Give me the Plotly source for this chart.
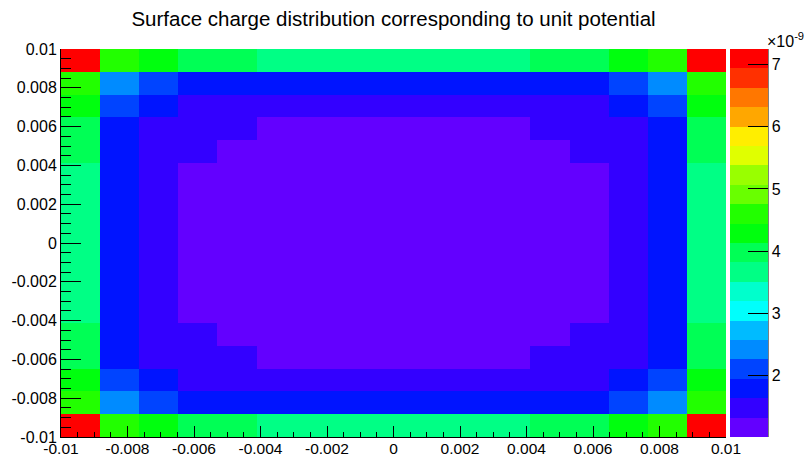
import colorsys
import numpy as np
import plotly.graph_objects as go

# Histogram range and binning (17 x 17 cells on a square plate)
x_min, x_max = -0.01, 0.01
y_min, y_max = -0.01, 0.01
n_bins = 17

# Surface charge per cell, in units of 1e-9 (rows from bottom to top)
charge_1e9 = [
    [7.25, 4.60, 4.29, 3.97, 3.97, 3.66, 3.66, 3.66, 3.66, 3.66, 3.66, 3.66, 3.97, 3.97, 4.29, 4.60, 7.25],
    [4.60, 2.41, 2.10, 1.79, 1.79, 1.79, 1.79, 1.79, 1.79, 1.79, 1.79, 1.79, 1.79, 1.79, 2.10, 2.41, 4.60],
    [4.29, 2.10, 1.79, 1.48, 1.48, 1.48, 1.48, 1.48, 1.48, 1.48, 1.48, 1.48, 1.48, 1.48, 1.79, 2.10, 4.29],
    [3.97, 1.79, 1.48, 1.48, 1.48, 1.30, 1.28, 1.27, 1.27, 1.27, 1.28, 1.30, 1.48, 1.48, 1.48, 1.79, 3.97],
    [3.97, 1.79, 1.48, 1.48, 1.30, 1.22, 1.18, 1.16, 1.16, 1.16, 1.18, 1.22, 1.30, 1.48, 1.48, 1.79, 3.97],
    [3.66, 1.79, 1.48, 1.31, 1.24, 1.16, 1.12, 1.10, 1.09, 1.10, 1.12, 1.16, 1.24, 1.31, 1.48, 1.79, 3.66],
    [3.66, 1.79, 1.48, 1.29, 1.20, 1.13, 1.09, 1.06, 1.05, 1.06, 1.09, 1.13, 1.20, 1.29, 1.48, 1.79, 3.66],
    [3.66, 1.79, 1.48, 1.28, 1.19, 1.11, 1.07, 1.04, 1.03, 1.04, 1.07, 1.11, 1.19, 1.28, 1.48, 1.79, 3.66],
    [3.66, 1.79, 1.48, 1.28, 1.18, 1.10, 1.06, 1.03, 1.01, 1.03, 1.06, 1.10, 1.18, 1.28, 1.48, 1.79, 3.66],
    [3.66, 1.79, 1.48, 1.28, 1.19, 1.11, 1.07, 1.04, 1.03, 1.04, 1.07, 1.11, 1.19, 1.28, 1.48, 1.79, 3.66],
    [3.66, 1.79, 1.48, 1.29, 1.20, 1.13, 1.09, 1.06, 1.05, 1.06, 1.09, 1.13, 1.20, 1.29, 1.48, 1.79, 3.66],
    [3.66, 1.79, 1.48, 1.31, 1.24, 1.16, 1.12, 1.10, 1.09, 1.10, 1.12, 1.16, 1.24, 1.31, 1.48, 1.79, 3.66],
    [3.97, 1.79, 1.48, 1.48, 1.30, 1.22, 1.18, 1.16, 1.16, 1.16, 1.18, 1.22, 1.30, 1.48, 1.48, 1.79, 3.97],
    [3.97, 1.79, 1.48, 1.48, 1.48, 1.30, 1.28, 1.27, 1.27, 1.27, 1.28, 1.30, 1.48, 1.48, 1.48, 1.79, 3.97],
    [4.29, 2.10, 1.79, 1.48, 1.48, 1.48, 1.48, 1.48, 1.48, 1.48, 1.48, 1.48, 1.48, 1.48, 1.79, 2.10, 4.29],
    [4.60, 2.41, 2.10, 1.79, 1.79, 1.79, 1.79, 1.79, 1.79, 1.79, 1.79, 1.79, 1.79, 1.79, 2.10, 2.41, 4.60],
    [7.25, 4.60, 4.29, 3.97, 3.97, 3.66, 3.66, 3.66, 3.66, 3.66, 3.66, 3.66, 3.97, 3.97, 4.29, 4.60, 7.25],
]

# Colour axis limits (units of 1e-9) and number of contour levels
z_min, z_max = 1.01, 7.25
n_levels = 20

axis_tick_vals = [-0.01, -0.008, -0.006, -0.004, -0.002, 0, 0.002, 0.004, 0.006, 0.008, 0.01]
axis_tick_text = ["-0.01", "-0.008", "-0.006", "-0.004", "-0.002", "0",
                  "0.002", "0.004", "0.006", "0.008", "0.01"]
cbar_tick_vals = [2, 3, 4, 5, 6, 7]
cbar_tick_text = ["2", "3", "4", "5", "6", "7"]

title_text = "Surface charge distribution corresponding to unit potential"

# Bin centres from the histogram edges
x_edges = np.linspace(x_min, x_max, n_bins + 1)
y_edges = np.linspace(y_min, y_max, n_bins + 1)
x_centres = 0.5 * (x_edges[:-1] + x_edges[1:])
y_centres = 0.5 * (y_edges[:-1] + y_edges[1:])

# "Pretty" violet-to-red palette of 50 hues, sampled onto the contour levels
def pretty_colour(i, n_pretty=50, max_hue=280.0):
    hue = max_hue - (i + 1) * (max_hue / n_pretty)
    r, g, b = colorsys.hls_to_rgb(hue / 360.0, 0.5, 1.0)
    return "rgb({:d},{:d},{:d})".format(round(r * 255), round(g * 255), round(b * 255))

colorscale = []
for k in range(n_levels):
    idx = int((k + 0.99) * 50 / n_levels)
    c = pretty_colour(idx)
    colorscale.append([k / n_levels, c])
    colorscale.append([(k + 1) / n_levels, c])

FONT = "Liberation Sans, Arial, Helvetica, sans-serif"

# Plot area in pixels
W, H = 805, 457
L, R, T, B = 61, 726, 49, 437
pw, ph = R - L, B - T

fig = go.Figure()
fig.add_trace(go.Heatmap(
    x=x_centres, y=y_centres, z=charge_1e9,
    zmin=z_min, zmax=z_max, colorscale=colorscale,
    hoverinfo="skip",
    colorbar=dict(
        x=(730 - L) / pw, xanchor="left", xpad=0,
        y=0.5, yanchor="middle", ypad=0,
        len=1.0, lenmode="fraction",
        thickness=38, thicknessmode="pixels",
        outlinewidth=0,
        tickmode="array", tickvals=cbar_tick_vals, ticktext=cbar_tick_text,
        ticks="inside", ticklen=20, tickwidth=1, tickcolor="black",
        tickfont=dict(family=FONT, size=16, color="black"),
    ),
))

axis_common = dict(
    tickmode="array", tickvals=axis_tick_vals, ticktext=axis_tick_text,
    ticks="inside", tickcolor="black", tickwidth=1,
    showline=True, linecolor="black", linewidth=1,
    showgrid=False, zeroline=False, automargin=False,
)

fig.update_xaxes(range=[x_min, x_max], ticklen=11, ticklabelstandoff=-3,
                 tickfont=dict(family=FONT, size=15.5, color="black"),
                 minor=dict(dtick=0.0005, ticks="inside", ticklen=5, tickcolor="black", showgrid=False),
                 **axis_common)
fig.update_yaxes(range=[y_min, y_max], ticklen=20,
                 tickfont=dict(family=FONT, size=16, color="black"),
                 minor=dict(dtick=0.0005, ticks="inside", ticklen=10, tickcolor="black", showgrid=False),
                 **axis_common)

# Axis line along the palette's right edge
fig.add_shape(type="line", xref="paper", yref="paper",
              x0=(768 - L) / pw, x1=(768 - L) / pw, y0=0, y1=1,
              line=dict(color="black", width=1))

# Common exponent of the palette axis
fig.add_annotation(text="\u00d710<sup>-9</sup>", xref="paper", yref="paper",
                   x=(765 - L) / pw, y=(B - 40) / ph, xanchor="left", yanchor="middle",
                   showarrow=False, font=dict(family=FONT, size=16, color="black"))

fig.update_layout(
    width=W, height=H,
    margin=dict(l=L, r=W - R, t=T, b=H - B, pad=0, autoexpand=False),
    paper_bgcolor="white", plot_bgcolor="white",
    title=dict(text=title_text, x=0.5, xref="paper", xanchor="center",
               y=1 - 19 / H, yref="container", yanchor="middle",
               font=dict(family=FONT, size=20.5, color="black")),
    showlegend=False,
)

fig.write_html("out.html")
